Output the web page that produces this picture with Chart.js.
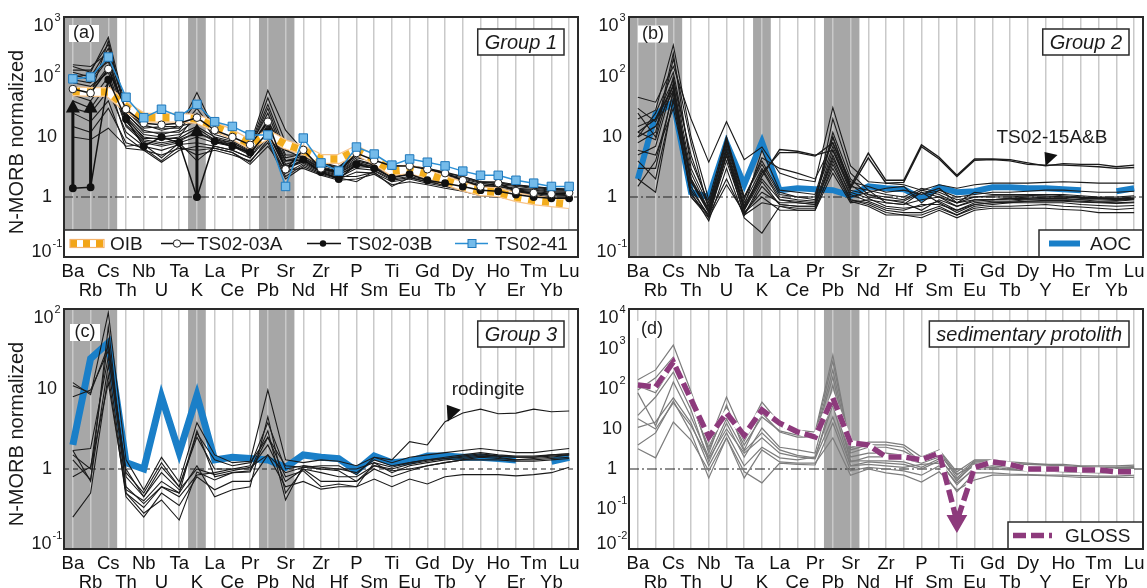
<!DOCTYPE html>
<html>
<head>
<meta charset="utf-8">
<title>N-MORB normalized trace element patterns</title>
<script src="https://cdn.jsdelivr.net/npm/chart.js@4.4.1/dist/chart.umd.min.js"></script>
<style>
  html, body { margin: 0; padding: 0; background: #fff; overflow: hidden; }
  #wrap { position: relative; width: 1147px; height: 588px; overflow: hidden; }
  canvas { position: absolute; }
</style>
</head>
<body>
<div id="wrap">
  <canvas id="panelA" width="590" height="300" style="left:0;top:0"></canvas>
  <canvas id="panelB" width="590" height="300" style="left:565px;top:0"></canvas>
  <canvas id="panelC" width="590" height="300" style="left:0;top:292px"></canvas>
  <canvas id="panelD" width="590" height="300" style="left:565px;top:292px"></canvas>
</div>
<script>
// element order along the x axis (incompatible -> compatible)
const elements = ['Ba','Rb','Cs','Th','Nb','U','Ta','K','La','Ce','Pr','Pb','Sr','Nd','Zr','Hf','P','Sm','Ti','Eu','Gd','Tb','Dy','Y','Ho','Er','Tm','Yb','Lu'];

// y tick values
const yTicksAB = [0.1, 1, 10, 100, 1000];
const yTicksC = [0.1, 1, 10, 100];
const yTicksD = [0.01, 0.1, 1, 10, 100, 1000, 10000];

// fluid-mobile element columns that get shaded
const shadedAll = [['Ba', 'Cs'], ['K', 'K'], ['Pb', 'Sr']];
const shadedPbSr = [['Pb', 'Sr']];

// reference patterns
const oib = [58,56,56,32,21,21,21,20,15,11,7.5,11,7.5,6,4.3,4.3,6,4.2,2.7,2.9,2.4,1.9,1.5,1.25,1.2,1.0,0.88,0.82,0.76];
const aoc = [2,24,38,1.2,1.0,8,1.6,8.3,1.3,1.4,1.35,1.3,1.05,1.5,1.4,1.35,0.95,1.45,1.2,1.25,1.45,1.45,1.4,1.4,1.35,1.3,null,1.25,1.4];
const gloss = [126,112,475,55,6.3,25,7,30,14,8.5,6.3,60,4.5,4,2,2,1.7,2.5,0.05,1.1,1.5,1.3,1.0,1.0,1.0,0.95,0.95,0.85,0.85];

// Group 1 highlighted samples
const ts0241 = [93,100,215,46,21,29,22,35,18,15,10.8,10.8,1.5,9.6,3.7,2.7,6.8,5.2,3.4,4.3,3.8,3.3,2.7,2.3,2.3,1.9,1.7,1.5,1.5];
const ts0203a = [63,54,136,29,17,16,17,21,13,10,7.4,18,2.9,6.1,3.0,2.6,5.4,4.1,3.3,3.3,2.9,2.5,1.9,1.5,1.7,1.26,1.17,1.12,1.17];
const ts0203b = [1.4,1.45,90,20,7,10,8,1.0,8.5,7,5.5,12,3,4.2,2.6,2.0,3.5,3.0,2.1,2.4,1.9,1.7,1.5,1.3,1.25,1.1,1.0,0.95,0.95];
// upper ends of the arrows drawn above the TS02-03B points
const ts0203bArrowTop = [42,42,null,null,null,null,null,17,null,null,null,null,null,null,null,null,null,null,null,null,null,null,null,null,null,null,null,null,null];

// Group 1 samples
const group1 = [
  [150,120,460,30,15,14,14,55,13,11,7.5,60,13,6,3.8,3.2,5.5,4.2,3.3,3.3,3.0,2.6,2.2,1.8,1.8,1.6,1.5,1.4,1.35],
  [120,100,300,25,12,12,12,20,11,9,6.5,30,5,5,3.4,2.9,4.8,3.8,3.0,3.0,2.7,2.3,2.0,1.7,1.6,1.5,1.4,1.3,1.3],
  [90,80,200,22,11,10,11,15,10,8.5,6,20,4,4.8,3.2,2.7,4.2,3.5,2.6,2.8,2.5,2.1,1.8,1.5,1.5,1.35,1.3,1.2,1.2],
  [70,60,150,18,9,8,9,12,9,8,5.5,15,3.5,4.3,3.0,2.5,3.8,3.2,2.4,2.6,2.3,2.0,1.7,1.4,1.4,1.25,1.2,1.1,1.1],
  [50,40,100,15,8,7,8,10,8,7,5,13,3,4,2.8,2.3,3.5,3.0,2.2,2.4,2.1,1.8,1.5,1.3,1.3,1.15,1.1,1.0,1.0],
  [30,25,60,12,7,6,7.5,8,7,6,4.5,10,2.5,3.6,2.6,2.1,3.0,2.8,2.0,2.2,1.9,1.6,1.4,1.2,1.2,1.05,1.0,0.95,0.95],
  [15,12,30,8,6.5,4,7,5,6,5,4,8,2,3.2,2.4,2.0,2.6,2.5,1.8,2.0,1.7,1.5,1.3,1.1,1.1,1.0,0.92,0.85,0.85],
  [10,9,14,7,7.5,4.5,8,4,7,6,4.5,12,3,3.8,2.7,2.2,2.2,2.6,1.5,2.1,1.8,1.6,1.4,1.15,1.1,0.95,0.9,0.82,0.8],
  [160,150,250,28,14,15,15,40,14,11,7,45,8,5.5,3.6,3.0,5,4,3.4,3.2,2.9,2.5,2.2,1.8,1.7,1.6,1.45,1.4,1.35],
  [100,110,180,20,10,9,10,25,9.5,8,5.8,18,6,4.5,3.1,2.6,4,3.4,2.8,2.7,2.4,2.1,1.8,1.5,1.5,1.3,1.25,1.15,1.15],
  [80,70,120,16,8.5,7.5,8.5,12,8.5,7.5,5.2,14,4,4.1,2.9,2.4,3.2,3.1,2.3,2.5,2.2,1.9,1.6,1.35,1.35,1.2,1.15,1.05,1.05],
  [40,30,80,10,6,5,6.5,6,6.5,5.5,3.8,9,2.2,3.4,2.5,2.1,1.8,2.7,1.9,2.1,1.8,1.55,1.35,1.15,1.15,1.0,0.95,0.9,0.9],
  [60,50,400,24,13,11,13,30,12,10,7,25,4.5,5.2,3.5,2.8,4.5,3.9,2.9,3.0,2.6,2.2,1.9,1.6,1.55,1.4,1.35,1.25,1.25],
  [25,18,40,6.5,6,3.8,6,7,6.5,5.5,3.5,7,2.8,3.0,2.3,1.9,2.0,2.4,1.6,1.8,1.6,1.4,1.25,1.05,1.0,0.9,0.85,0.8,0.78],
  [130,130,350,27,16,13,15,18,13,10.5,6.8,35,6,5.8,3.7,3.1,5.2,4.1,3.2,3.2,2.9,2.4,2.1,1.75,1.7,1.55,1.45,1.35,1.3],
  [110,90,220,21,9.5,9.5,9.5,14,9,7.5,5.3,16,4,4.4,3.0,2.5,3.6,3.2,2.5,2.5,2.2,1.95,1.65,1.4,1.4,1.2,1.15,1.1,1.05]
];

// Group 2 samples
const ts0215a = [12,20,70,2,0.6,6,0.7,2.5,5.5,5.5,4.8,8,1.5,5.4,1.9,1.9,7.4,4.6,2.3,4.3,4.3,4.2,3.7,3.3,3.6,3.5,3.5,3.2,3.4];
const ts0215b = [10,15,60,1.8,0.55,5,0.65,2.2,6.2,5.8,5,6,1.4,4.5,1.7,1.75,6.9,4.3,2.2,4.1,4.2,4.0,3.5,3.4,3.4,3.3,3.2,3.0,3.1];
const group2 = [
  [46,38,150,20,3.8,18,4.2,6.8,2.5,2.0,1.8,31,3.3,1.8,1.7,1.6,1.3,1.6,1.4,1.6,1.7,1.7,1.7,1.75,1.8,1.75,1.7,1.7,1.7],
  [20,28,340,10,0.9,10,1.0,4,1.2,1.0,0.9,10,1.5,1.3,1.1,1.0,1.4,1.2,0.9,1.0,1.0,1.0,1.05,1.1,1.1,1.05,1.0,1.0,1.05],
  [8,12,250,3,0.7,8,0.8,3,1.0,0.9,0.85,12,2.0,1.1,0.9,0.85,1.2,1.0,0.8,0.9,0.9,0.95,1.0,1.0,1.0,0.95,0.95,0.9,0.95],
  [12,9,100,2.5,0.6,6,0.6,2,0.9,0.85,0.8,6,1.2,0.95,0.7,0.65,0.7,0.85,0.6,0.8,0.85,0.85,0.9,0.9,0.9,0.9,0.85,0.85,0.9],
  [5,7,80,1.5,0.45,5,0.5,1.5,0.75,0.7,0.7,4,0.9,0.8,0.6,0.55,0.55,0.7,0.5,0.7,0.75,0.8,0.8,0.8,0.8,0.75,0.72,0.7,0.72],
  [3,3,60,1.2,0.4,3,0.45,0.25,0.7,0.65,0.65,3,0.85,0.7,0.5,0.5,0.45,0.6,0.45,0.6,0.65,0.65,0.65,0.65,0.62,0.6,0.55,0.55,0.55],
  [2,1.2,45,1.1,0.5,4,0.55,1.2,0.8,0.8,0.75,5,1.0,1.2,1.4,1.5,0.8,1.3,1.0,1.1,1.2,1.2,1.25,1.3,1.3,1.25,1.2,1.2,1.25],
  [15,20,90,5,0.7,9,0.9,4.5,3,2.5,2,8,1.8,1.5,1.2,1.3,1.1,1.4,0.8,1.2,1.1,1.1,1.1,1.1,1.05,1.0,0.98,0.95,1.0],
  [30,18,70,2,0.55,7,0.7,6,1.3,1.2,1.1,10,1.6,1.0,0.9,0.8,0.6,0.9,0.7,0.9,0.9,0.9,0.92,0.95,0.95,0.9,0.9,0.88,0.92],
  [6,5,30,1.3,0.5,2,0.5,0.8,0.7,0.6,0.6,2.5,0.8,0.9,0.8,0.75,1.2,0.8,0.55,0.75,0.8,0.8,0.85,0.85,0.85,0.82,0.8,0.78,0.8],
  [10,25,120,4,0.8,8,1.0,3.5,1.1,1.0,1.0,7,1.3,1.1,1.0,0.9,1.3,1.1,0.8,1.0,1.05,1.05,1.05,1.05,1.0,1.0,0.95,0.95,0.95],
  [4,2,40,1.0,0.45,1.6,0.55,1.0,0.6,0.6,0.6,3.5,0.9,0.75,0.55,0.5,0.5,0.65,0.5,0.65,0.7,0.7,0.72,0.75,0.7,0.68,0.65,0.62,0.65],
  [25,10,200,8,0.6,10,0.6,2.8,0.9,0.8,0.75,20,2.5,1.3,0.8,0.75,0.9,1.0,0.7,0.85,0.9,0.95,0.95,1.0,1.0,0.98,0.95,0.92,0.95],
  [1.5,4,55,1.0,0.5,5,0.5,1.8,0.75,0.7,0.7,4.5,1.1,0.85,0.65,0.6,0.75,0.75,0.6,0.75,0.8,0.82,0.85,0.88,0.88,0.85,0.82,0.8,0.82]
];

// Group 3 samples
const rodingite = [11,9,35,0.9,0.5,1.2,0.6,2.8,1.3,1.1,1.2,2.5,1.1,1.05,1.1,1.1,0.85,1.4,1.3,2.2,2.0,3.9,5.0,5.6,4.9,5.0,5.6,5.2,5.3];
const group3 = [
  [12,8.5,90,1.3,0.55,1.4,0.69,3.8,1.5,1.2,1.25,9.7,1.3,1.2,1.3,1.25,1.1,1.4,1.2,1.4,1.5,1.6,1.7,1.8,1.7,1.6,1.6,1.7,1.8],
  [8,9.7,30,0.6,0.37,0.6,0.5,1.1,0.45,0.55,0.6,4.5,0.5,1.0,0.9,0.8,0.8,1.1,0.95,1.0,1.1,1.2,1.3,1.4,1.35,1.3,1.3,1.35,1.4],
  [1.7,1.8,25,1.0,0.45,1.06,0.6,2.5,1.0,1.0,1.1,3.8,1.0,1.1,1.05,1.0,0.9,1.3,1.1,1.2,1.3,1.35,1.4,1.5,1.45,1.4,1.4,1.45,1.5],
  [1.3,0.73,20,0.5,0.28,0.41,0.23,0.92,0.73,0.9,0.92,2.5,0.8,0.95,0.6,0.65,0.6,1.2,0.9,1.1,1.2,1.3,1.35,1.45,1.4,1.3,1.35,1.4,1.5],
  [0.8,1.06,12,0.5,0.33,0.6,0.45,0.84,0.9,1.0,1.0,2.0,0.7,1.0,0.7,0.7,0.7,1.0,0.8,0.95,1.1,1.2,1.3,1.3,1.3,1.25,1.25,1.3,1.35],
  [0.25,0.5,15,0.45,0.25,0.5,0.35,0.8,0.55,0.7,0.7,1.5,0.6,0.7,0.56,0.6,0.6,0.75,0.6,0.75,0.65,0.8,0.85,0.85,0.85,0.82,0.85,0.9,1.05],
  [1.5,1.0,40,0.8,0.45,0.9,0.55,1.0,0.85,0.95,1.05,1.5,0.9,1.05,1.0,1.0,1.0,1.2,1.05,1.2,1.3,1.4,1.5,1.6,1.5,1.45,1.45,1.5,1.55],
  [1.7,0.7,60,0.55,0.4,0.7,0.5,3.0,0.8,0.9,0.95,3.0,0.41,1.1,1.0,0.95,0.7,1.1,1.0,1.15,1.25,1.35,1.45,1.55,1.45,1.4,1.4,1.5,1.55]
];

// sedimentary protolith samples
const group4 = [
  [170,300,1250,85,4.7,63,6.3,47,14,9.4,8.4,700,3.4,4.7,4.7,4.0,2.0,3.0,0.85,1.7,1.7,1.5,1.4,1.3,1.3,1.2,1.2,1.2,1.25],
  [95,190,630,60,2.5,40,3,25,8.4,6.3,6.3,300,2.5,3.5,3.5,2.8,1.6,2.6,0.6,1.5,1.5,1.35,1.3,1.25,1.2,1.1,1.1,1.1,1.15],
  [22,63,265,30,1.5,14,2.0,10.6,3.5,3.0,2.5,125,1.5,2.0,2.0,1.8,1.4,2.0,0.5,1.4,1.4,1.2,1.1,1.1,1.05,1.0,1.0,1.0,1.05],
  [11,15,60,14,1.2,8,1.2,3.5,1.9,1.7,2.0,40,1.2,1.5,1.4,1.3,1.0,1.6,0.4,1.1,1.1,1.0,0.95,0.95,0.9,0.9,0.9,0.9,0.92],
  [4,8,50,8,0.6,6,0.85,0.45,1.4,1.3,1.26,14,0.9,1.1,1.0,0.9,0.7,1.2,0.27,0.8,0.8,0.75,0.72,0.7,0.7,0.68,0.66,0.66,0.7],
  [3.2,1.9,15,5.3,0.9,6,0.6,3,1.5,1.4,1.4,6,0.7,1.0,0.8,0.7,0.47,0.85,0.3,0.53,0.7,0.7,0.7,0.68,0.65,0.62,0.62,0.62,0.62],
  [120,80,400,50,3,30,4,20,9,7,6,200,2,2.5,2.5,2.2,1.8,2.4,0.7,1.6,1.6,1.4,1.3,1.3,1.2,1.15,1.1,1.1,1.1],
  [140,110,500,45,3.5,35,5,30,12,8,7,500,3,4,4,3.5,1.5,2.8,0.75,1.2,1.2,1.1,1.1,1.05,1.0,1.0,1.0,1.0,1.0],
  [18,10,45,12,1.8,10,2.5,6,2.5,2,1.8,20,1.2,1.3,1.2,1.1,1.3,1.4,0.45,1.0,1.0,0.95,0.9,0.9,0.85,0.82,0.8,0.8,0.82],
  [80,12,150,20,2,18,2.8,8,3,2.2,1.9,60,1.6,1.6,1.6,1.5,1.1,1.8,0.55,1.3,1.3,1.15,1.05,1.0,0.98,0.95,0.95,0.95,0.98]
];

const FONT = "'Liberation Sans', Arial, Helvetica, sans-serif";
const INK = '#1b1b1b';
const FRAME = '#2a2a2a';
const BLUE = '#1a7fc8';
const PURPLE = '#8d3a7c';
const TI = elements.indexOf('Ti');

function thin(data, color, width) {
  return { data, borderColor: color || INK, borderWidth: width || 1.1, pointRadius: 0, order: 50 };
}

// pixel position for a (possibly fractional) element index
function xAt(chart, i) {
  const x = chart.scales.x;
  const p0 = x.getPixelForValue(0);
  return p0 + i * (x.getPixelForValue(1) - p0);
}

function legendBox(ctx, a, x0) {
  const top = a.bottom - 27;
  ctx.fillStyle = '#fff';
  ctx.fillRect(x0, top, a.right - x0, a.bottom - top);
  ctx.strokeStyle = FRAME;
  ctx.lineWidth = 1.5;
  ctx.strokeRect(x0, top, a.right - x0, a.bottom - top);
  return top + 13.5;
}

function segment(ctx, x0, x1, y, color, width, dash) {
  ctx.save();
  ctx.strokeStyle = color;
  ctx.lineWidth = width;
  ctx.setLineDash(dash || []);
  ctx.beginPath();
  ctx.moveTo(x0, y);
  ctx.lineTo(x1, y);
  ctx.stroke();
  ctx.restore();
}

function legendText(ctx, text, x, y) {
  ctx.fillStyle = INK;
  ctx.font = '19px ' + FONT;
  ctx.textAlign = 'left';
  ctx.textBaseline = 'middle';
  ctx.fillText(text, x, y + 1);
}

function drawPanelA(chart) {
  const { ctx, chartArea: a, scales: { y } } = chart;
  ctx.save();
  // arrows above the TS02-03B points
  ctx.fillStyle = '#111';
  ctx.strokeStyle = '#111';
  ctx.lineWidth = 3;
  ts0203bArrowTop.forEach((top, i) => {
    if (top == null) return;
    const px = xAt(chart, i);
    const y0 = y.getPixelForValue(ts0203b[i]);
    const y1 = y.getPixelForValue(top);
    ctx.beginPath();
    ctx.moveTo(px, y0);
    ctx.lineTo(px, y1 + 10);
    ctx.stroke();
    ctx.beginPath();
    ctx.moveTo(px, y1);
    ctx.lineTo(px - 7, y1 + 13);
    ctx.lineTo(px + 7, y1 + 13);
    ctx.closePath();
    ctx.fill();
  });

  const cy = legendBox(ctx, a, a.left);
  // OIB swatch
  const sx = a.left + 6;
  ctx.save();
  ctx.beginPath();
  ctx.rect(sx, cy - 4, 34, 8);
  ctx.clip();
  segment(ctx, sx, sx + 34, cy, '#f2a516', 8, [7, 6]);
  ctx.restore();
  ctx.strokeStyle = '#f5b36a';
  ctx.lineWidth = 1.2;
  ctx.strokeRect(sx, cy - 4, 34, 8);
  legendText(ctx, 'OIB', a.left + 46, cy);

  // TS02-03A
  segment(ctx, a.left + 97, a.left + 130, cy, '#111', 1.5);
  ctx.beginPath();
  ctx.arc(a.left + 113, cy, 3.7, 0, Math.PI * 2);
  ctx.fillStyle = '#fff';
  ctx.fill();
  ctx.strokeStyle = '#222';
  ctx.lineWidth = 1;
  ctx.stroke();
  legendText(ctx, 'TS02-03A', a.left + 133, cy);

  // TS02-03B
  segment(ctx, a.left + 243, a.left + 277, cy, '#111', 1.5);
  ctx.beginPath();
  ctx.arc(a.left + 259, cy, 3.2, 0, Math.PI * 2);
  ctx.fillStyle = '#111';
  ctx.fill();
  legendText(ctx, 'TS02-03B', a.left + 283, cy);

  // TS02-41
  segment(ctx, a.left + 391, a.left + 424, cy, '#2b8fd4', 1.5);
  ctx.fillStyle = '#74bbea';
  ctx.fillRect(a.left + 404, cy - 4, 8, 8);
  ctx.strokeStyle = '#1f78bb';
  ctx.lineWidth = 1;
  ctx.strokeRect(a.left + 404, cy - 4, 8, 8);
  legendText(ctx, 'TS02-41', a.left + 431, cy);
  ctx.restore();
}

function drawPanelB(chart) {
  const { ctx, chartArea: a, scales: { y } } = chart;
  ctx.save();
  const iY = elements.indexOf('Y');
  const tx = xAt(chart, iY);
  const ty = y.getPixelForValue(ts0215a[iY]);
  ctx.fillStyle = '#111';
  ctx.beginPath();
  ctx.moveTo(tx, ty);
  ctx.lineTo(tx - 1, ty - 14);
  ctx.lineTo(tx + 12, ty - 11);
  ctx.closePath();
  ctx.fill();
  ctx.font = '19px ' + FONT;
  ctx.textAlign = 'left';
  ctx.textBaseline = 'middle';
  ctx.fillStyle = INK;
  ctx.fillText('TS02-15A&B', tx - 49, ty - 28);

  const cy = legendBox(ctx, a, a.right - 104);
  segment(ctx, a.right - 94, a.right - 63, cy, BLUE, 6);
  legendText(ctx, 'AOC', a.right - 53, cy);
  ctx.restore();
}

function drawPanelC(chart) {
  const { ctx, scales: { y } } = chart;
  ctx.save();
  const iTb = elements.indexOf('Tb');
  const tx = xAt(chart, iTb + 0.15);
  const ty = y.getPixelForValue(rodingite[iTb]);
  ctx.fillStyle = '#111';
  ctx.beginPath();
  ctx.moveTo(tx, ty);
  ctx.lineTo(tx - 1, ty - 17);
  ctx.lineTo(tx + 13, ty - 12);
  ctx.closePath();
  ctx.fill();
  ctx.font = '19px ' + FONT;
  ctx.textAlign = 'left';
  ctx.textBaseline = 'middle';
  ctx.fillStyle = INK;
  ctx.fillText('rodingite', tx + 4, ty - 32);
  ctx.restore();
}

function drawPanelD(chart) {
  const { ctx, chartArea: a } = chart;
  ctx.save();
  const cy = legendBox(ctx, a, a.right - 135);
  segment(ctx, a.right - 130, a.right - 91, cy, PURPLE, 5.5, [13, 5]);
  legendText(ctx, 'GLOSS', a.right - 78, cy);
  ctx.restore();
}

const panelDefs = {
  panelA: { yMin: 0.1, yMax: 1000, yTicks: yTicksAB, bands: shadedAll, refDash: [9, 3, 2, 3],
            tag: '(a)', tagX: 20, tagY: 16.5, group: 'Group 1', yTitle: true, extra: drawPanelA },
  panelB: { yMin: 0.1, yMax: 1000, yTicks: yTicksAB, bands: shadedAll, refDash: [9, 3, 2, 3],
            tag: '(b)', tagX: 24, tagY: 17, group: 'Group 2', yTitle: false, extra: drawPanelB },
  panelC: { yMin: 0.1, yMax: 100, yTicks: yTicksC, bands: shadedAll, refDash: [5, 4],
            tag: '(c)', tagX: 21, tagY: 23.5, group: 'Group 3', yTitle: true, extra: drawPanelC },
  panelD: { yMin: 0.01, yMax: 10000, yTicks: yTicksD, bands: shadedPbSr, refDash: [10, 3, 2, 3],
            tag: '(d)', tagX: 23, tagY: 20.5, group: 'sedimentary protolith', yTitle: false, extra: drawPanelD }
};

const decor = {
  id: 'decor',
  beforeDraw(chart) {
    const def = panelDefs[chart.canvas.id];
    const { ctx, chartArea: a } = chart;
    ctx.save();
    ctx.fillStyle = '#a7a7a7';
    def.bands.forEach(([from, to]) => {
      const x0 = xAt(chart, elements.indexOf(from) - 0.5);
      const x1 = xAt(chart, elements.indexOf(to) + 0.5);
      ctx.fillRect(x0, a.top, x1 - x0, a.bottom - a.top);
    });
    ctx.restore();
  },
  beforeDatasetsDraw(chart) {
    const def = panelDefs[chart.canvas.id];
    const { ctx, chartArea: a, scales: { y } } = chart;
    const py = y.getPixelForValue(1);
    segment(ctx, a.left, a.right, py, '#222', 1.2, def.refDash);
  },
  afterDatasetsDraw(chart) {
    const def = panelDefs[chart.canvas.id];
    const { ctx, chartArea: a, scales: { y } } = chart;
    def.extra(chart);
    ctx.save();

    // panel tag
    ctx.font = '18px ' + FONT;
    ctx.fillStyle = '#fff';
    ctx.fillRect(a.left + def.tagX - 15, a.top + def.tagY - 8.5, 30, 17);
    ctx.fillStyle = INK;
    ctx.textAlign = 'center';
    ctx.textBaseline = 'middle';
    ctx.fillText(def.tag, a.left + def.tagX, a.top + def.tagY);

    // group label
    ctx.font = 'italic 20px ' + FONT;
    const bw = ctx.measureText(def.group).width + 14, bh = 26;
    const bx = a.right - 14 - bw, by = a.top + 12;
    ctx.fillStyle = '#fff';
    ctx.fillRect(bx, by, bw, bh);
    ctx.strokeStyle = FRAME;
    ctx.lineWidth = 1.5;
    ctx.strokeRect(bx, by, bw, bh);
    ctx.fillStyle = INK;
    ctx.fillText(def.group, bx + bw / 2, by + bh / 2 + 1);

    // frame
    ctx.strokeStyle = FRAME;
    ctx.lineWidth = 2;
    ctx.strokeRect(a.left, a.top, a.right - a.left, a.bottom - a.top);

    // y tick labels with exponents
    const cx = a.left - 17;
    def.yTicks.forEach(v => {
      const e = Math.round(Math.log10(v));
      const base = e === 0 ? '1' : '10';
      const sup = (e === 0 || e === 1) ? '' : String(e);
      let py = y.getPixelForValue(v);
      py = Math.min(Math.max(py, a.top + 9), a.bottom - 5);
      ctx.font = '18px ' + FONT;
      const wb = ctx.measureText(base).width;
      ctx.font = '11px ' + FONT;
      const ws = sup ? ctx.measureText(sup).width + 1 : 0;
      const x0 = cx - (wb + ws) / 2;
      ctx.textAlign = 'left';
      ctx.fillStyle = INK;
      ctx.font = '18px ' + FONT;
      ctx.fillText(base, x0, py);
      if (sup) {
        ctx.font = '11px ' + FONT;
        ctx.fillText(sup, x0 + wb + 1, py - 8);
      }
    });

    if (def.yTitle) {
      ctx.translate(17, (a.top + a.bottom) / 2 + 5);
      ctx.rotate(-Math.PI / 2);
      ctx.font = '20px ' + FONT;
      ctx.textAlign = 'center';
      ctx.fillStyle = INK;
      ctx.fillText('N-MORB normalized', 0, 0);
    }
    ctx.restore();
  }
};

function makePanel(id, datasets) {
  const def = panelDefs[id];
  return new Chart(document.getElementById(id), {
    type: 'line',
    data: { labels: elements, datasets },
    options: {
      responsive: false,
      animation: false,
      events: [],
      layout: { padding: { top: 17, right: 12, left: 0, bottom: 0 } },
      elements: { line: { tension: 0 } },
      plugins: { legend: { display: false }, tooltip: { enabled: false } },
      scales: {
        x: {
          type: 'category',
          offset: true,
          border: { display: false },
          grid: { offset: false, color: '#c9c9c9', lineWidth: 1.5, drawTicks: false },
          ticks: {
            autoSkip: false,
            maxRotation: 0,
            padding: 5,
            color: '#111',
            font: { family: FONT, size: 18.5, lineHeight: 1.03 },
            callback: (v, i) => i % 2 === 0 ? [elements[i], ''] : ['', elements[i]]
          },
          afterFit: s => { s.height = 43; }
        },
        y: {
          type: 'logarithmic',
          min: def.yMin,
          max: def.yMax,
          border: { display: false },
          grid: { display: false },
          ticks: { display: false },
          afterFit: s => { s.width = 64; }
        }
      }
    },
    plugins: [decor]
  });
}

makePanel('panelA', [
  ...group1.map(d => thin(d)),
  { data: oib, borderColor: '#f7c48c', borderWidth: 10, pointRadius: 0, order: 40 },
  { data: oib, borderColor: '#ffffff', borderWidth: 7.5, pointRadius: 0, order: 39 },
  { data: oib, borderColor: '#f3ad1e', borderWidth: 7.5, borderDash: [7, 7], pointRadius: 0, order: 38 },
  { data: ts0203b, borderColor: '#111', borderWidth: 1.5, pointRadius: 3.2,
    pointBackgroundColor: '#111', pointBorderColor: '#111', order: 12 },
  { data: ts0203a, borderColor: '#111', borderWidth: 1.5, pointRadius: 3.8,
    pointBackgroundColor: '#fff', pointBorderColor: '#222', pointBorderWidth: 1, order: 11 },
  { data: ts0241, borderColor: '#2b8fd4', borderWidth: 1.5, pointStyle: 'rect', pointRadius: 6,
    pointBackgroundColor: '#74bbea', pointBorderColor: '#1f78bb', pointBorderWidth: 1, order: 10 }
]);

makePanel('panelB', [
  { data: aoc, borderColor: BLUE, borderWidth: 6, pointRadius: 0, order: 60 },
  ...group2.map(d => thin(d)),
  thin(ts0215a, INK, 1.4),
  thin(ts0215b, INK, 1.4)
]);

makePanel('panelC', [
  { data: aoc, borderColor: BLUE, borderWidth: 7, pointRadius: 0, order: 60 },
  ...group3.map(d => thin(d)),
  thin(rodingite)
]);

makePanel('panelD', [
  ...group4.map(d => thin(d, '#7d7d7d', 1.2)),
  { data: gloss, borderColor: '#ffffff', borderWidth: 5.5, pointRadius: 0, order: 5 },
  { data: gloss, borderColor: PURPLE, borderWidth: 5.5, borderDash: [13, 5], order: 4,
    pointStyle: 'triangle', pointRotation: 180,
    pointRadius: c => c.dataIndex === TI ? 6.5 : 0,
    pointBackgroundColor: PURPLE, pointBorderColor: PURPLE }
]);
</script>
</body>
</html>
